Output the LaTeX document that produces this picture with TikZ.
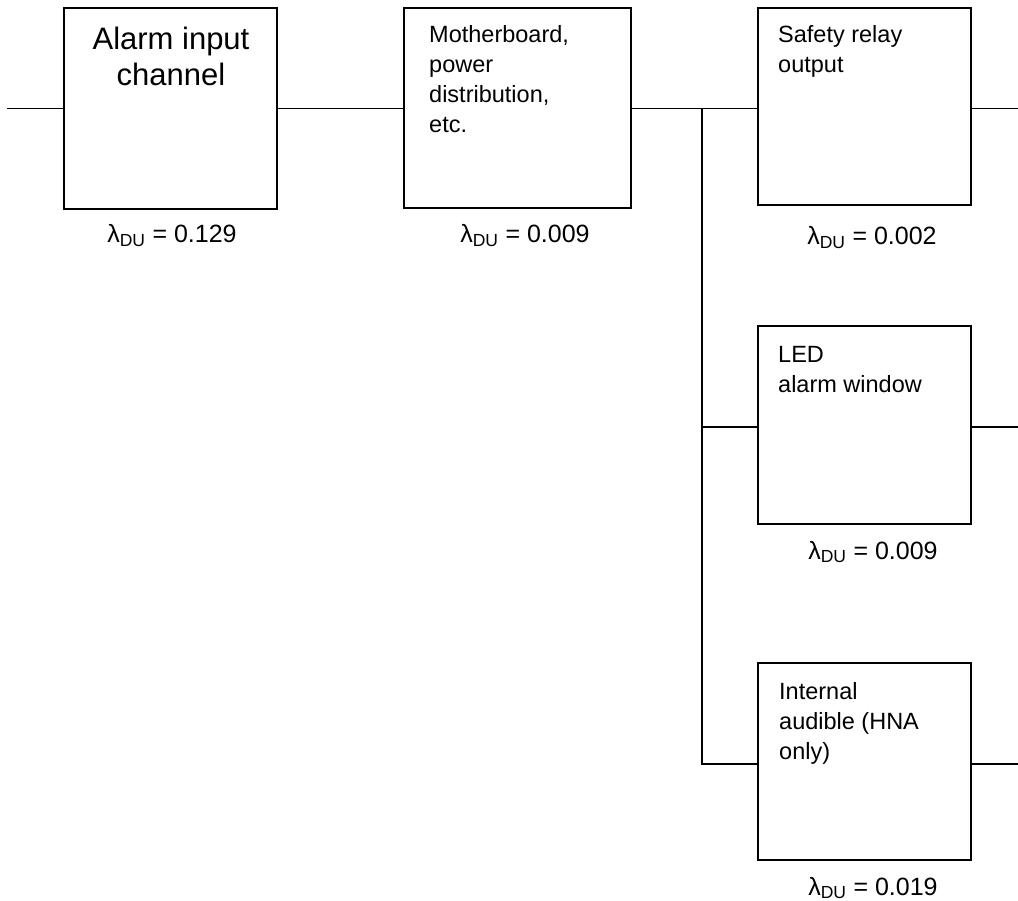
\documentclass[tikz,border=0pt]{standalone}
\usepackage{fontspec}
\setmainfont{Liberation Sans}
\begin{document}
\begin{tikzpicture}[x=1pt,y=-1pt,
  blk/.style={draw=black, rectangle, inner sep=0pt, line width=1.5pt},
  btxt/.style={anchor=north west, inner sep=0pt, align=left, font=\fontsize{23.5}{30}\selectfont},
  ttxt/.style={anchor=north, inner sep=0pt, align=center, font=\fontsize{31}{36}\selectfont},
  lam/.style={anchor=base, inner sep=0pt, font=\fontsize{25}{30}\selectfont},
  wire/.style={draw=black, line width=1.5pt}]
\useasboundingbox (0,0) rectangle (1018,901);

% boxes
\node[blk, minimum width=213pt, minimum height=201pt] (b1) at (170.5,108.5) {};
\node[blk, minimum width=227pt, minimum height=200pt] (b2) at (517.5,108) {};
\node[blk, minimum width=213pt, minimum height=197pt] (b3) at (864.5,106.5) {};
\node[blk, minimum width=213pt, minimum height=198pt] (b4) at (864.5,425) {};
\node[blk, minimum width=213pt, minimum height=197pt] (b5) at (864.5,761.5) {};

% box texts
\node[ttxt] (t1) at (171,26.8) {Alarm input\\channel};
\node[btxt] (t2) at (429,25) {Motherboard,\\power\\distribution,\\etc.};
\node[btxt] (t3) at (778,25) {Safety relay\\output};
\node[btxt] (t4) at (778,346) {LED\\alarm window};
\node[btxt] (t5) at (779,682) {Internal\\audible (HNA\\only)};

% lambda labels
\node[lam] (l1) at (172,243) {λ\textsubscript{DU} = 0.129};
\node[lam] (l2) at (525,243) {λ\textsubscript{DU} = 0.009};
\node[lam] (l3) at (872,245) {λ\textsubscript{DU} = 0.002};
\node[lam] (l4) at (873,559) {λ\textsubscript{DU} = 0.009};
\node[lam] (l5) at (873,895) {λ\textsubscript{DU} = 0.019};

% wiring
\coordinate (in) at (7,108.5);
\coordinate (j) at (702,108.5);
\coordinate (jm) at (702,427);
\coordinate (jb) at (702,764);
\coordinate (oa) at (1018,108.5);
\coordinate (ob) at (1018,427);
\coordinate (oc) at (1018,764);

\draw[wire] (in) -- (in -| b1.west);
\draw[wire] (b1.east |- in) -- (b2.west |- in);
\draw[wire] (b2.east |- in) -- (b3.west |- in);
\draw[wire] (j) -- (jb) -- (jb -| b5.west);
\draw[wire] (jm) -- (jm -| b4.west);
\draw[wire] (b3.east |- oa) -- (oa);
\draw[wire] (b4.east |- ob) -- (ob);
\draw[wire] (b5.east |- oc) -- (oc);
\end{tikzpicture}
\end{document}
